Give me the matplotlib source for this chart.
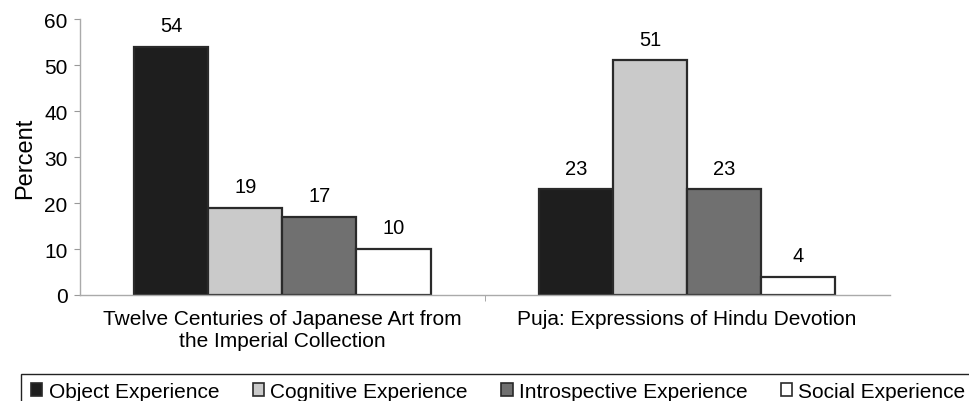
import numpy as np
import matplotlib
matplotlib.use('Agg')
import matplotlib.pyplot as plt
from matplotlib.patches import Rectangle

exhibitions = ["Twelve Centuries of Japanese Art from\nthe Imperial Collection",
               "Puja: Expressions of Hindu Devotion"]
series = ["Object Experience", "Cognitive Experience",
          "Introspective Experience", "Social Experience"]
values = [[54, 23],
          [19, 51],
          [17, 23],
          [10, 4]]
colors = ["#1e1e1e", "#cacaca", "#707070", "#ffffff"]

plt.rcParams['font.family'] = ['Liberation Sans', 'DejaVu Sans']

fig = plt.figure(figsize=(9.69, 4.02), dpi=100)
ax = fig.add_axes([0.0826, 0.2637, 0.8354, 0.6863])

x = np.arange(len(exhibitions))
w = 0.183
for i, (name, vals) in enumerate(zip(series, values)):
    pos = x + (i - 1.5) * w
    ax.bar(pos, vals, w, color=colors[i], edgecolor="#2a2a2a", linewidth=1.6, label=name)
    for p, v in zip(pos, vals):
        ax.text(p, v + 4.6, str(v), ha="center", va="center", fontsize=14.5)

ax.set_xlim(-0.5, 1.5)
ax.set_ylim(0, 60)
ax.set_yticks(range(0, 61, 10))
ax.set_ylabel("Percent", fontsize=17, labelpad=6)
ax.tick_params(axis="y", labelsize=15, length=4, color="#999999", pad=5)
ax.set_xticks(x)
ax.set_xticklabels(exhibitions, fontsize=15)
ax.tick_params(axis="x", length=0, pad=10)
ax.set_xticks([0.5], minor=True)
ax.tick_params(axis="x", which="minor", length=4, color="#999999")
for s in ["top", "right"]:
    ax.spines[s].set_visible(False)
for s in ["left", "bottom"]:
    ax.spines[s].set_color("#aaaaaa")
    ax.spines[s].set_linewidth(1.0)

# legend box runs off the right and bottom edges
fig.patches.append(Rectangle((21 / 969, -0.1), 1.0, 1.1 - 375 / 402,
                             transform=fig.transFigure, fill=False,
                             edgecolor="#222222", linewidth=1.0))
leg = fig.legend(loc="upper left", bbox_to_anchor=(31 / 969, 1 - 383 / 402), ncol=4,
                 fontsize=15, frameon=False,
                 handlelength=0.55, handleheight=0.55, handletextpad=0.3,
                 columnspacing=1.6, borderpad=0.0, borderaxespad=0)
for h in leg.legend_handles:
    h.set_linewidth(1.2)

fig.savefig("out.png", dpi=100)
